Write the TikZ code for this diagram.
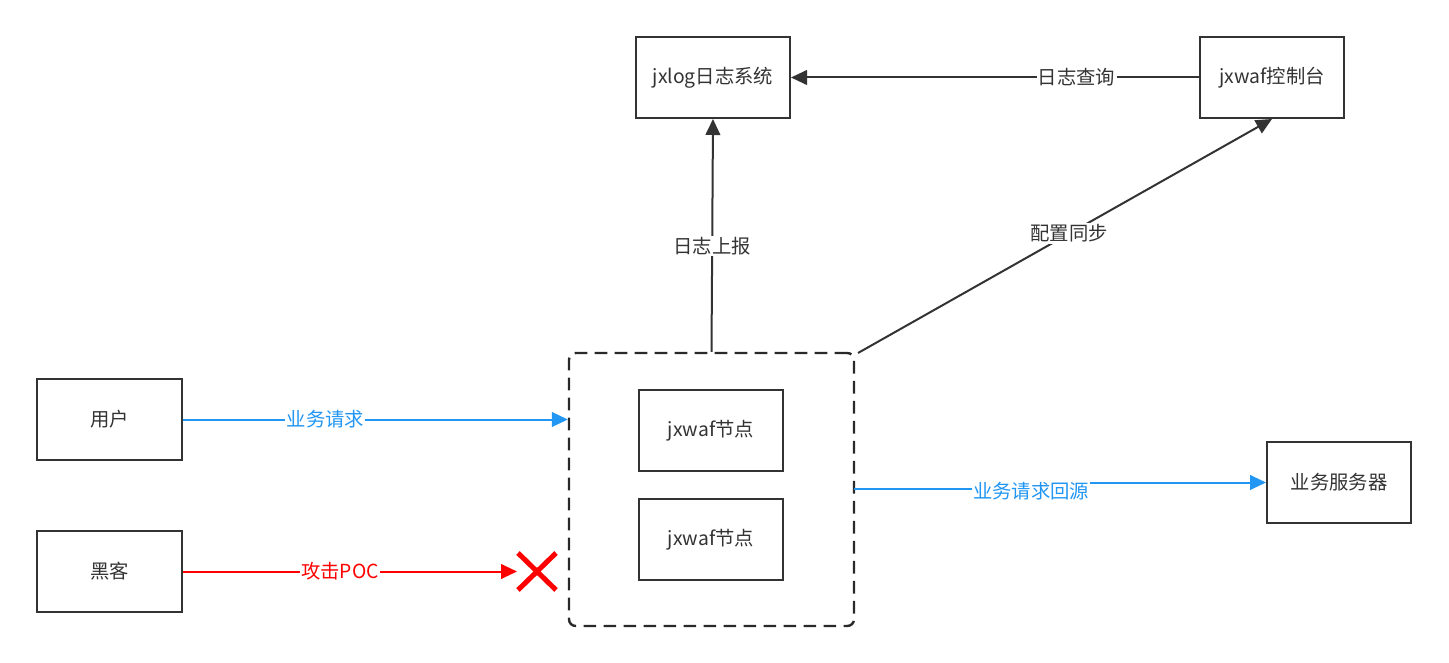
\documentclass[tikz,border=0pt]{standalone}
\usepackage{fontspec}
\setmainfont{Noto Sans CJK SC}
\usetikzlibrary{arrows.meta}
\definecolor{ink}{HTML}{333333}
\definecolor{bline}{HTML}{2196F3}
\definecolor{rline}{HTML}{FF0000}
\tikzset{
  box/.style={draw=ink, line width=1.5pt, text=ink, minimum width=108pt, minimum height=60.75pt, inner sep=0pt, font=\fontsize{14.5}{16}\selectfont},
  conn/.style={draw=ink, line width=1.5pt, -{Triangle[length=12pt,width=11pt]}},
  bconn/.style={draw=bline, line width=1.5pt, -{Triangle[length=12pt,width=11pt]}},
  rconn/.style={draw=rline, line width=1.5pt, -{Triangle[length=12pt,width=11pt]}},
  lbl/.style={fill=white, inner sep=1pt, font=\fontsize{14.5}{16}\selectfont},
}
\begin{document}
\begin{tikzpicture}[x=0.75pt,y=-0.75pt]
\useasboundingbox (0,0) rectangle (1449,663);
% nodes
\node[box, minimum width=115.5pt] (jxlog) at (713,77.5) {jxlog日志系统};
\node[box] (ctl) at (1272,77.5) {jxwaf控制台};
\node[box, minimum width=108.75pt] (user) at (109.5,419.5) {用户};
\node[box, minimum width=108.75pt] (hacker) at (109.5,571.5) {黑客};
\node[draw=ink!80!black, line width=1.8pt, dash pattern=on 9.5pt off 5.5pt, rounded corners=5pt, minimum width=213.75pt, minimum height=204.75pt, inner sep=0pt] (cont) at (711.5,489.5) {};
\node[box] (n1) at (711,430.5) {jxwaf节点};
\node[box] (n2) at (711,539.5) {jxwaf节点};
\node[box] (srv) at (1339,482.5) {业务服务器};
% connectors
\draw[conn] (ctl.west) -- node[lbl, text=ink, pos=0.3] {日志查询} (jxlog.east);
\draw[conn] (cont.north) -- node[lbl, text=ink, pos=0.455] {日志上报} (jxlog.south);
\coordinate (cne) at (858,353);
\draw[conn] (cne) -- node[lbl, text=ink, pos=0.51] {配置同步} (ctl.south);
\draw[bconn] (user.east) -- node[lbl, text=bline, pos=0.37] {业务请求} (user.east -| cont.west);
\coordinate (rtip) at (517,571.5);
\draw[rconn] (hacker.east) -- node[lbl, text=rline, pos=0.47] {攻击POC} (rtip);
\coordinate (xa) at (518,553);
\coordinate (xb) at (556,590);
\coordinate (xc) at (518,590);
\coordinate (xd) at (556,553);
\draw[rline, line width=3.8pt] (xa) -- (xb);
\draw[rline, line width=3.8pt] (xc) -- (xd);
\coordinate (bs) at (854,489);
\coordinate (bm1) at (1031,489);
\coordinate (bm2) at (1031,482.5);
\draw[bconn] (bs) -- (bm1) -- (bm2) -- (srv.west);
\node[lbl, text=bline] (bl) at (1031,491) {业务请求回源};
\end{tikzpicture}
\end{document}
